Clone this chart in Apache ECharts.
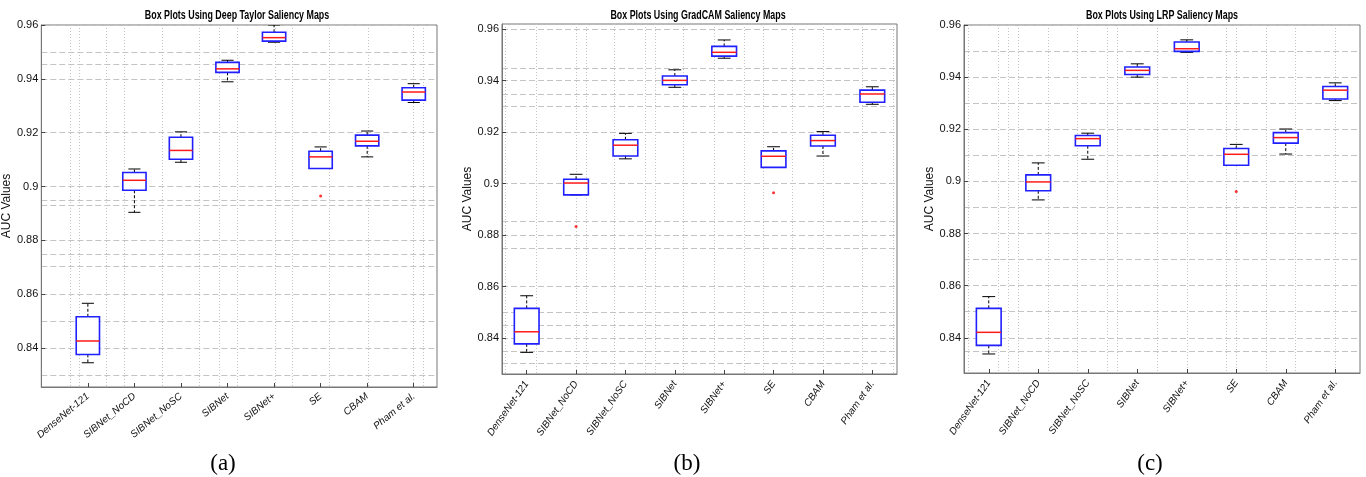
<!DOCTYPE html>
<html>
<head>
<meta charset="utf-8">
<title>Box Plots</title>
<script src="https://cdn.jsdelivr.net/npm/echarts@6/dist/echarts.min.js"></script>
<style>
html, body { margin: 0; padding: 0; background: #fff; }
#main { width: 1366px; height: 477px; }
</style>
</head>
<body>
<div id="main"></div>
<script>
var categories = ['DenseNet-121', 'SIBNet_NoCD', 'SIBNet_NoSC', 'SIBNet', 'SIBNet+', 'SE', 'CBAM', 'Pham et al.'];
var titles = ['Box Plots Using Deep Taylor Saliency Maps', 'Box Plots Using GradCAM Saliency Maps', 'Box Plots Using LRP Saliency Maps'];
var captions = ['(a)', '(b)', '(c)'];
var yTicks = [0.84, 0.86, 0.88, 0.90, 0.92, 0.94, 0.96];

// [lower whisker, Q1, median, Q3, upper whisker]
var deepTaylorBoxes = [
    [0.8345, 0.8376, 0.8426, 0.8516, 0.8566],
    [0.8904, 0.8986, 0.9023, 0.9052, 0.9065],
    [0.9090, 0.9101, 0.9134, 0.9183, 0.9203],
    [0.9389, 0.9424, 0.9437, 0.9461, 0.9469],
    [0.9536, 0.9540, 0.9553, 0.9573, 0.9600],
    [0.9067, 0.9067, 0.9110, 0.9131, 0.9147],
    [0.9110, 0.9151, 0.9168, 0.9191, 0.9206],
    [0.9312, 0.9321, 0.9351, 0.9367, 0.9382]
];
var gradCamBoxes = [
    [0.8344, 0.8377, 0.8424, 0.8515, 0.8564],
    [0.8956, 0.8956, 0.9002, 0.9017, 0.9036],
    [0.9096, 0.9107, 0.9149, 0.9170, 0.9195],
    [0.9374, 0.9384, 0.9401, 0.9418, 0.9442],
    [0.9487, 0.9495, 0.9510, 0.9533, 0.9558],
    [0.9063, 0.9063, 0.9106, 0.9127, 0.9143],
    [0.9107, 0.9146, 0.9167, 0.9188, 0.9202],
    [0.9308, 0.9316, 0.9348, 0.9363, 0.9376]
];
var lrpBoxes = [
    [0.8338, 0.8371, 0.8421, 0.8513, 0.8558],
    [0.8929, 0.8964, 0.8998, 0.9025, 0.9071],
    [0.9085, 0.9137, 0.9164, 0.9176, 0.9185],
    [0.9400, 0.9410, 0.9426, 0.9439, 0.9451],
    [0.9495, 0.9499, 0.9509, 0.9535, 0.9543],
    [0.9062, 0.9062, 0.9104, 0.9126, 0.9142],
    [0.9105, 0.9147, 0.9168, 0.9187, 0.9201],
    [0.9310, 0.9316, 0.9350, 0.9364, 0.9378]
];
// [category number, value]
var deepTaylorOutliers = [[6, 0.8965]];
var gradCamOutliers = [[2, 0.8833], [6, 0.8964]];
var lrpOutliers = [[6, 0.8961]];

// grid line positions of each panel
var hGridA = [0.96, 0.95, 0.9455, 0.94, 0.92, 0.90, 0.895, 0.893, 0.88, 0.875, 0.8703, 0.86, 0.85, 0.84, 0.83];
var vGridA = [0.62, 0.81, 1.4, 1.79, 2.6, 3.4, 3.83, 4.21, 5.02, 5.4, 6.19, 7.02, 8.0, 8.21];
var hGridB = [0.96, 0.9447, 0.94, 0.9348, 0.93, 0.92, 0.90, 0.8852, 0.88, 0.875, 0.86, 0.85, 0.845, 0.84, 0.835, 0.83];
var vGridB = [0.56, 1.2, 2.0, 2.2, 2.77, 3.4, 3.6, 4.18, 4.8, 5.4, 5.8, 6.38, 7.0, 7.8, 8.42];
var hGridC = [0.96, 0.95, 0.94, 0.93, 0.92, 0.91, 0.90, 0.89, 0.88, 0.87, 0.86, 0.85, 0.84, 0.835];
var vGridC = [0.58, 1.2, 1.4, 1.6, 2.2, 2.79, 3.4, 3.6, 4.4, 5.0, 5.8, 6.0, 6.6, 7.2, 8.0];

var FONT = "'Liberation Sans', Arial, sans-serif";

// panel layout
var panels = [
    { boxes: deepTaylorBoxes, outliers: deepTaylorOutliers, hGrid: hGridA, vGrid: vGridA,
      grid: { left: 37, width: 400, top: 25, height: 362 }, xMin: 0, xMax: 8.5, yMin: 0.8255, yMax: 0.96,
      rotate: 40, titleX: 237, capX: 223, nameGap: 24 },
    { boxes: gradCamBoxes, outliers: gradCamOutliers, hGrid: hGridB, vGrid: vGridB,
      grid: { left: 502, width: 395, top: 24, height: 350 }, xMin: 0.5, xMax: 8.5, yMin: 0.826, yMax: 0.962,
      rotate: 55, titleX: 698, capX: 687, nameGap: 25 },
    { boxes: lrpBoxes, outliers: lrpOutliers, hGrid: hGridC, vGrid: vGridC,
      grid: { left: 964, width: 396, top: 25, height: 348 }, xMin: 0.5, xMax: 8.5, yMin: 0.8265, yMax: 0.96,
      rotate: 55, titleX: 1162, capX: 1150, nameGap: 23 }
];

// categories 1..8
function categoryPositions() {
    var pos = [];
    for (var i = 0; i < categories.length; i++) {
        pos.push(i + 1);
    }
    return pos;
}

// one MATLAB style box
function renderBox(params, api) {
    var x = api.value(0);
    var lo = api.coord([x, api.value(1)]);
    var q1 = api.coord([x, api.value(2)]);
    var md = api.coord([x, api.value(3)]);
    var q3 = api.coord([x, api.value(4)]);
    var hi = api.coord([x, api.value(5)]);
    var half = api.size([0.5, 0])[0] / 2;
    var cap = api.size([0.26, 0])[0] / 2;
    var cx = md[0];
    var whisker = { stroke: '#000', lineWidth: 1, lineDash: [3, 2] };
    var solid = { stroke: '#000', lineWidth: 1 };
    return {
        type: 'group',
        children: [
            { type: 'line', shape: { x1: cx, y1: q3[1], x2: cx, y2: hi[1] }, style: whisker },
            { type: 'line', shape: { x1: cx, y1: q1[1], x2: cx, y2: lo[1] }, style: whisker },
            { type: 'line', shape: { x1: cx - cap, y1: hi[1], x2: cx + cap, y2: hi[1] }, style: solid },
            { type: 'line', shape: { x1: cx - cap, y1: lo[1], x2: cx + cap, y2: lo[1] }, style: solid },
            { type: 'rect', shape: { x: cx - half, y: q3[1], width: half * 2, height: q1[1] - q3[1] },
              style: { fill: '#fff', stroke: '#1f1fff', lineWidth: 1.6 } },
            { type: 'line', shape: { x1: cx - half, y1: md[1], x2: cx + half, y2: md[1] },
              style: { stroke: '#ff1a1a', lineWidth: 1.5 } }
        ]
    };
}

// box data with category number in front
function boxData(boxes) {
    var data = [];
    for (var i = 0; i < boxes.length; i++) {
        data.push([i + 1].concat(boxes[i]));
    }
    return data;
}

function fmtY(v) {
    return String(+v.toFixed(2));
}

function buildOption() {
    var grids = [], xAxes = [], yAxes = [], series = [], graphics = [];
    var pos = categoryPositions();
    for (var i = 0; i < panels.length; i++) {
        var p = panels[i];
        grids.push({
            left: p.grid.left, top: p.grid.top, width: p.grid.width, height: p.grid.height,
            show: true, borderColor: '#777', borderWidth: 1, backgroundColor: '#fff'
        });
        // main x axis with the model names
        xAxes.push({
            type: 'value', gridIndex: i, min: p.xMin, max: p.xMax, position: 'bottom',
            axisLine: { show: true, lineStyle: { color: '#777' } },
            axisTick: { show: true, inside: true, length: 4, customValues: pos, lineStyle: { color: '#444' } },
            axisLabel: {
                customValues: pos, rotate: p.rotate, margin: 8, fontSize: 10, fontStyle: 'italic',
                fontFamily: FONT, color: '#111',
                formatter: function(v) { return categories[Math.round(v) - 1]; }
            },
            splitLine: { show: false }
        });
        // hidden x axis carrying the vertical grid lines
        xAxes.push({
            type: 'value', gridIndex: i, min: p.xMin, max: p.xMax, position: 'top',
            axisLine: { show: false }, axisLabel: { show: false },
            axisTick: { show: false, customValues: p.vGrid },
            splitLine: { show: true, lineStyle: { color: '#c4c4c4', type: [1, 2], width: 1 } }
        });
        yAxes.push({
            type: 'value', gridIndex: i, min: p.yMin, max: p.yMax, position: 'left',
            name: 'AUC Values', nameLocation: 'middle', nameGap: p.nameGap,
            nameTextStyle: { fontSize: 12, fontFamily: FONT, color: '#111' },
            axisLine: { show: true, lineStyle: { color: '#777' } },
            axisTick: { show: true, inside: true, length: 4, customValues: yTicks, lineStyle: { color: '#444' } },
            axisLabel: { customValues: yTicks, margin: 3, fontSize: 11, fontFamily: FONT, color: '#111', formatter: fmtY },
            splitLine: { show: false }
        });
        // hidden y axis carrying the horizontal grid lines
        yAxes.push({
            type: 'value', gridIndex: i, min: p.yMin, max: p.yMax, position: 'right',
            axisLine: { show: false }, axisLabel: { show: false },
            axisTick: { show: false, customValues: p.hGrid },
            splitLine: { show: true, lineStyle: { color: '#c4c4c4', type: [6, 3], width: 1 } }
        });
        series.push({
            type: 'custom', xAxisIndex: i * 2, yAxisIndex: i * 2, clip: true,
            renderItem: renderBox, data: boxData(p.boxes), z: 5
        });
        series.push({
            type: 'scatter', xAxisIndex: i * 2, yAxisIndex: i * 2, data: p.outliers,
            symbol: 'circle', symbolSize: 3, itemStyle: { color: '#ff0000' }, z: 6
        });
        // title, squeezed to the narrow look of the original
        graphics.push({
            type: 'text', x: p.titleX, y: 16, scaleX: 0.74,
            style: { text: titles[i], align: 'center', verticalAlign: 'middle', fontSize: 12,
                     fontWeight: 'bold', fontFamily: FONT, fill: '#000' }
        });
        graphics.push({
            type: 'text', x: p.capX, y: 464,
            style: { text: captions[i], align: 'center', verticalAlign: 'middle', fontSize: 23,
                     fontFamily: "'Liberation Serif', 'Times New Roman', serif", fill: '#000' }
        });
    }
    return {
        backgroundColor: '#fff',
        animation: false,
        grid: grids,
        xAxis: xAxes,
        yAxis: yAxes,
        series: series,
        graphic: graphics
    };
}

var myChart = echarts.init(document.getElementById('main'));
myChart.setOption(buildOption());
</script>
</body>
</html>
